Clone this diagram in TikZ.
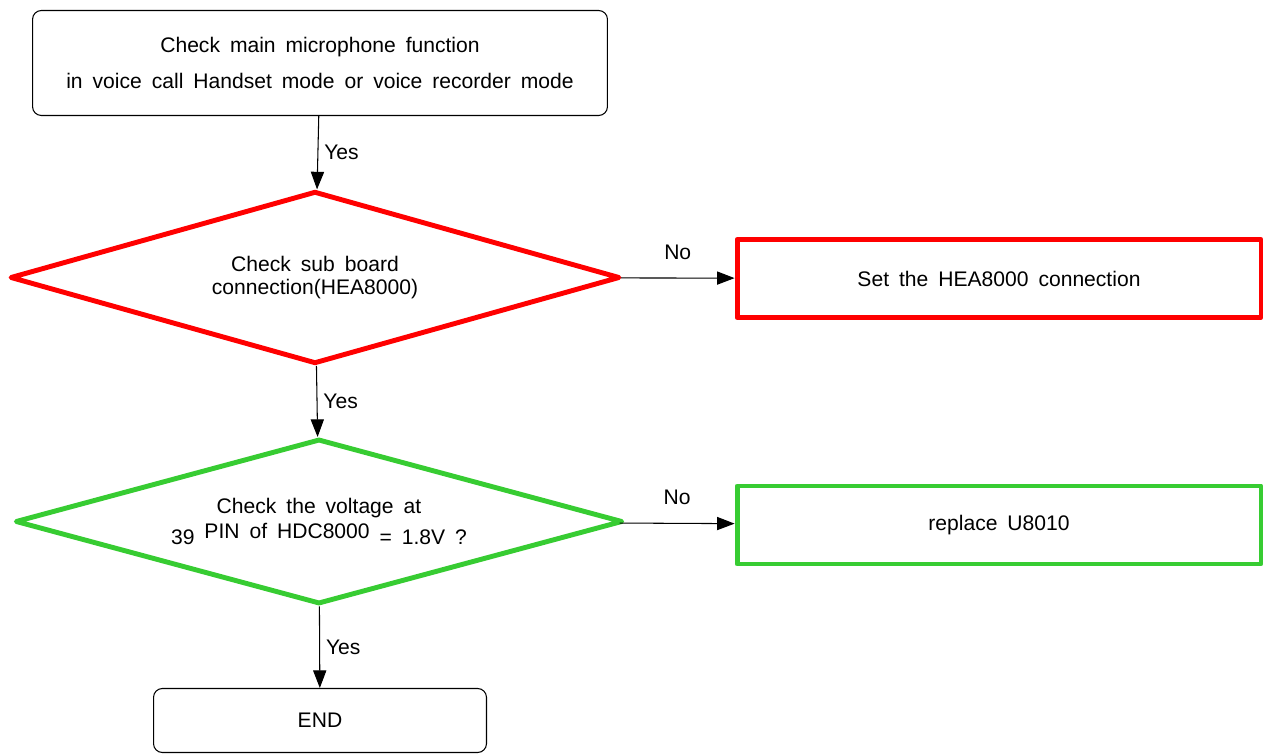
\documentclass[tikz,border=0pt]{standalone}
\usepackage{fontspec}
\setmainfont{Liberation Sans}[WordSpace=1.7]
\usetikzlibrary{shapes.geometric,arrows.meta}
\definecolor{flowred}{RGB}{255,0,0}
\definecolor{flowgreen}{RGB}{55,204,50}
\tikzset{
  every node/.style={font=\fontsize{12}{13}\selectfont},
  endbox/.style={draw,line width=0.6pt,rounded corners=5pt,align=center},
  testbox/.style={draw,diamond,shape aspect=3.5,line width=2.8pt,line join=round,align=center,inner sep=0pt},
  fixbox/.style={draw,line width=2.8pt,line join=round,align=center,minimum width=10.48cm,minimum height=1.56cm},
  flowarrow/.style={-{Triangle[length=10pt,width=7.5pt]},line width=0.6pt},
}
\begin{document}
\begin{tikzpicture}[x=0.02cm,y=-0.02cm]
\useasboundingbox (0,0) rectangle (1264,756);
% Start box
  \node[endbox,minimum width=11.5cm,minimum height=2.1cm] (start) at (320,63)
       {Check main microphone function\\[7pt]in voice call Handset mode or voice recorder mode};
% First check, sub board
  \node[testbox,draw=flowred,minimum width=12.2cm,minimum height=3.45cm] (board) at (315,277.5)
       {Check sub board\\connection(HEA8000)};
  \node[fixbox,draw=flowred] (setcon) at (999,278.5) {Set the HEA8000 connection};
% Second check, voltage
  \node[testbox,draw=flowgreen,minimum width=12.15cm,minimum height=3.3cm] (volt) at (319,521.5)
       {\raisebox{-2pt}{Check the voltage at}\\[2pt]39 \raisebox{3.5pt}{PIN of HDC8000} = 1.8V ?};
  \node[fixbox,draw=flowgreen] (repl) at (999,525) {\raisebox{3pt}{replace U8010}};
% End box
  \node[endbox,minimum width=6.66cm,minimum height=1.28cm] (stop) at (320,720.5) {END};
% Arrows
  \draw[flowarrow] (start) -- node[right] {Yes} (board);
  \draw[flowarrow] (board) -- node[above=7pt] {No} (setcon);
  \draw[flowarrow] (board) -- node[right] {Yes} (volt);
  \draw[flowarrow] (volt) -- node[above=7pt] {No} (repl);
  \draw[flowarrow] (volt) -- node[right] {Yes} (stop);
\end{tikzpicture}
\end{document}
